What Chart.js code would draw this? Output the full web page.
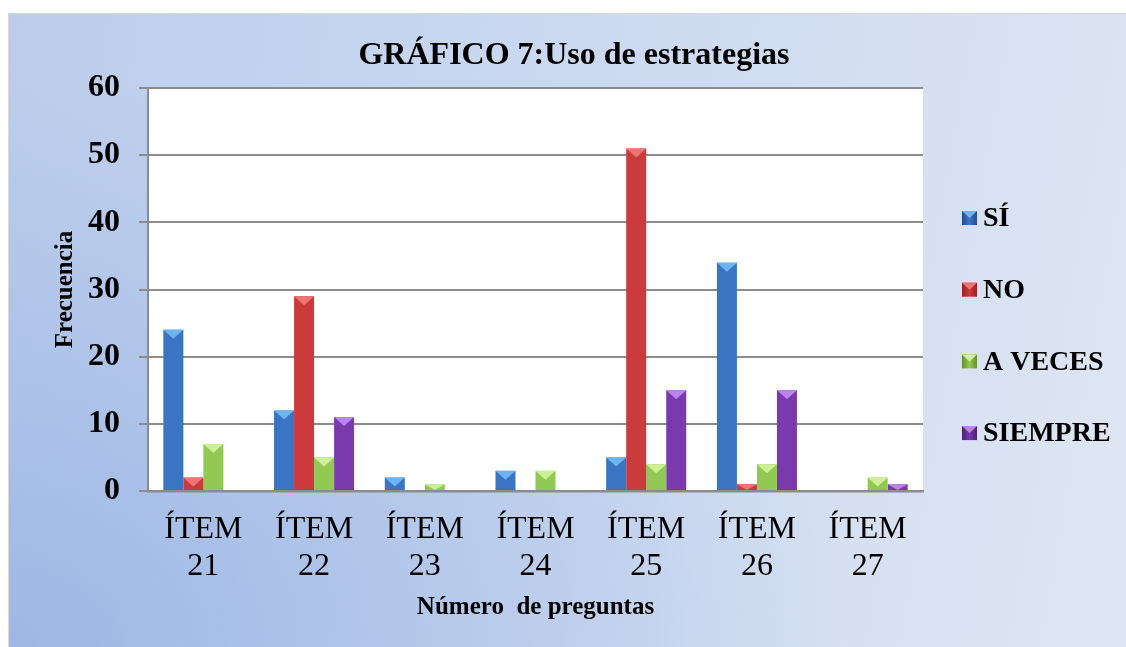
<!DOCTYPE html>
<html><head><meta charset="utf-8">
<script src="https://cdn.jsdelivr.net/npm/chart.js@4"></script>
<style>
html,body{margin:0;padding:0;background:#fff;overflow:hidden;}
#wrap{position:absolute;left:8px;top:13px;width:1117px;height:633px;border-top:1px solid #d8d8d8;border-left:1px solid #d8d8d8;
background:radial-gradient(ellipse 75% 90% at 0% 100%, rgba(152,179,227,0.85) 0%, rgba(152,179,227,0) 100%),
linear-gradient(100deg,#bccdec 0%,#cad8f0 45%,#dfe6f3 100%);}
canvas{display:block;}
</style></head><body>
<div id="wrap"><canvas id="c" width="1117" height="633"></canvas></div>
<script>
const categories = [["ÍTEM","21"],["ÍTEM","22"],["ÍTEM","23"],["ÍTEM","24"],["ÍTEM","25"],["ÍTEM","26"],["ÍTEM","27"]];
const seriesNames = ["SÍ","NO","A VECES","SIEMPRE"];
const si = [24,12,2,3,5,34,0];
const no = [2,29,0,0,51,1,0];
const aVeces = [7,5,1,3,4,4,2];
const siempre = [0,11,0,0,15,15,1];
const yTicks = [0,10,20,30,40,50,60];
const chartTitle = 'GRÁFICO 7:Uso de estrategias';

const palette = [
  {dark:'#22508f', mid:'#3b74c2', light:'#6db3ef'},
  {dark:'#962426', mid:'#cb3b3c', light:'#ee7474'},
  {dark:'#628f2d', mid:'#92c955', light:'#cdef98'},
  {dark:'#4d1f77', mid:'#7a39ad', light:'#b985e8'}
];

function barFill(i){
  return function(ctx){
    const el = ctx.element;
    const chart = ctx.chart;
    if(!el || el.x===undefined || !chart.chartArea) return palette[i].mid;
    const w = el.width || 20;
    const g = chart.ctx.createLinearGradient(el.x - w/2, 0, el.x + w/2, 0);
    g.addColorStop(0, palette[i].dark);
    g.addColorStop(0.3, palette[i].mid);
    g.addColorStop(0.65, palette[i].mid);
    g.addColorStop(1, palette[i].dark);
    return g;
  };
}

const bevel = {
  id:'bevel',
  afterDatasetsDraw(chart){
    const c = chart.ctx;
    chart.data.datasets.forEach((ds,i)=>{
      const meta = chart.getDatasetMeta(i);
      meta.data.forEach(el=>{
        const h = el.base - el.y;
        if(h <= 0.5) return;
        const w = el.width;
        const th = Math.min(w*0.45, h);
        c.save();
        c.fillStyle = palette[i].light;
        c.beginPath();
        c.moveTo(el.x - w/2, el.y);
        c.lineTo(el.x + w/2, el.y);
        c.lineTo(el.x, el.y + th);
        c.closePath();
        c.fill();
        c.restore();
      });
    });
  }
};

const plotBg = {
  id:'plotBg',
  beforeDraw(chart){
    const a = chart.chartArea; const c = chart.ctx;
    c.save(); c.fillStyle = '#ffffff';
    c.fillRect(a.left, a.top, a.right - a.left, a.bottom - a.top);
    c.restore();
  }
};

const serif = "'Liberation Serif','Times New Roman',serif";

const customTitleLegend = {
  id:'customTitleLegend',
  afterDraw(chart){
    const c = chart.ctx;
    const a = chart.chartArea;
    c.save();
    c.fillStyle = '#000';
    c.font = "bold 32px " + serif;
    c.textAlign = 'center';
    c.textBaseline = 'middle';
    c.fillText(chartTitle, 565, 42);

    const x0 = a.right + 39, y0 = 204, step = 71.7;
    c.font = "bold 28px " + serif;
    c.textAlign = 'left';
    chart.data.datasets.forEach((ds,i)=>{
      const y = y0 + i*step;
      const g = c.createLinearGradient(x0, 0, x0+15, 0);
      g.addColorStop(0, palette[i].dark); g.addColorStop(0.5, palette[i].mid); g.addColorStop(1, palette[i].dark);
      c.fillStyle = g;
      c.fillRect(x0, y-7, 15, 14);
      c.fillStyle = palette[i].light;
      c.beginPath(); c.moveTo(x0, y-7); c.lineTo(x0+15, y-7); c.lineTo(x0+7.5, y); c.closePath(); c.fill();
      c.fillStyle = '#000';
      c.fillText(ds.label, x0 + 21, y + 1);
    });
    c.restore();
  }
};

const values = [si, no, aVeces, siempre];

new Chart(document.getElementById('c'), {
  type:'bar',
  data:{
    labels: categories,
    datasets: seriesNames.map((n,i)=>({
      label:n, data: values[i],
      backgroundColor: barFill(i),
      borderWidth:0,
      categoryPercentage:0.723,
      barPercentage:1.0
    }))
  },
  options:{
    responsive:false, animation:false,
    layout:{padding:{left:0,right:203,top:74,bottom:0}},
    plugins:{
      title:{display:false},
      legend:{display:false},
      tooltip:{enabled:false}
    },
    scales:{
      x:{
        afterFit(ax){ ax.height = 156; },
        grid:{display:false,drawTicks:false},
        border:{color:'#8c8c8c',width:2.5},
        ticks:{color:'#000',font:{family:serif,size:32,lineHeight:1.15},padding:20,maxRotation:0},
        title:{display:true,text:'Número  de preguntas',color:'#000',font:{family:serif,size:25,weight:'bold',lineHeight:1.2},padding:{top:0,bottom:24}}
      },
      y:{
        min:0,max:60,
        afterFit(ax){ ax.width = 139; },
        afterBuildTicks(ax){ ax.ticks = yTicks.map(v=>({value:v})); },
        grid:{color:'#8c8c8c',lineWidth:2,tickLength:9},
        border:{color:'#8c8c8c',width:2},
        ticks:{color:'#000',font:{family:serif,size:32,weight:'bold'},padding:19},
        title:{display:true,text:'Frecuencia',color:'#000',font:{family:serif,size:25,weight:'bold',lineHeight:1.2},padding:{top:42,bottom:0}}
      }
    }
  },
  plugins:[plotBg, bevel, customTitleLegend]
});
</script>
</body></html>
